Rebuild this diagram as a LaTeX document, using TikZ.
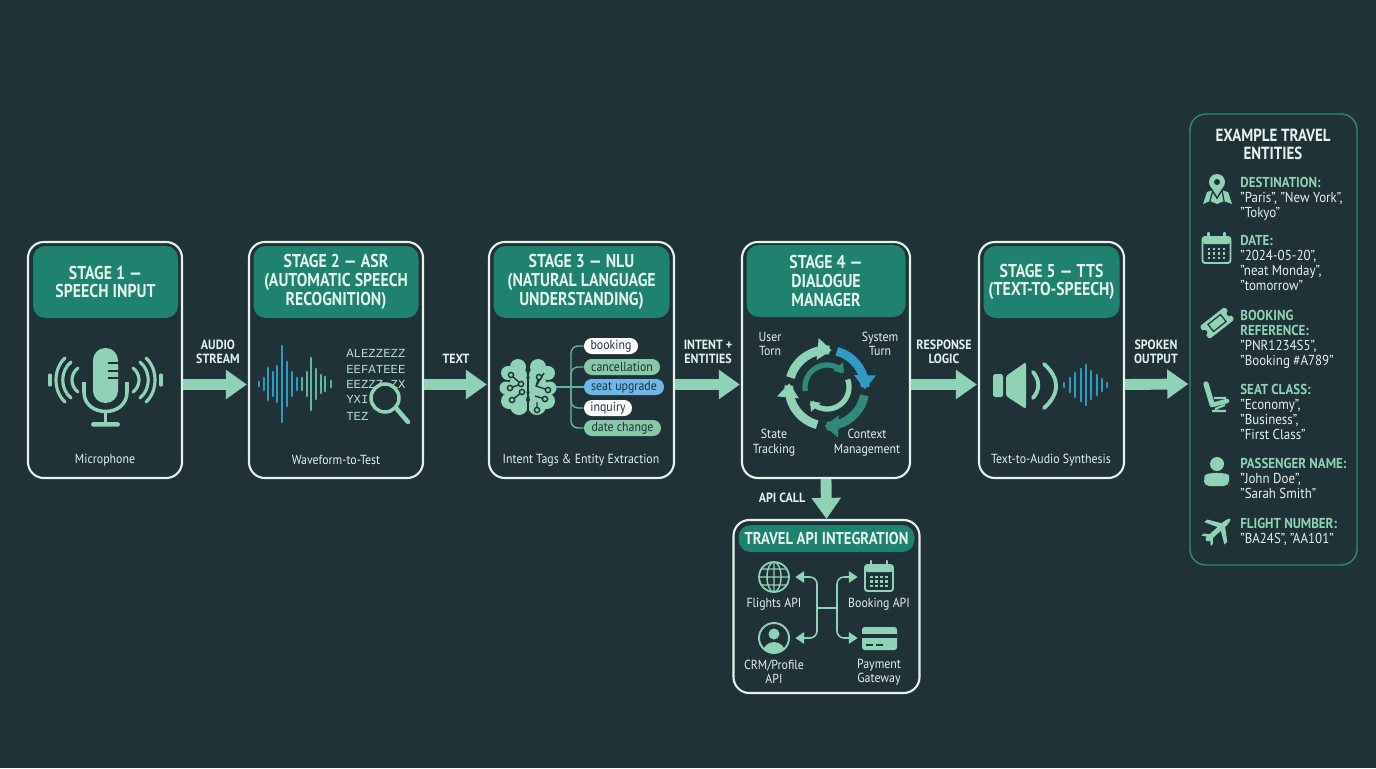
\documentclass[tikz,border=0pt]{standalone}
\usepackage{fontspec}
\setmainfont{PT Sans}[FakeStretch=0.9]
\newfontfamily\headfont{PT Sans}[FakeStretch=0.85]
\setmonofont{Liberation Mono}
\usetikzlibrary{arrows.meta,calc}
\definecolor{bgdark}{HTML}{1F3238}
\definecolor{headteal}{HTML}{1F8170}
\definecolor{mint}{HTML}{8FD3B6}
\definecolor{tagmint}{HTML}{86C9A8}
\definecolor{wavegreen}{HTML}{5FB89B}
\definecolor{waveblue}{HTML}{2E9BC6}
\definecolor{tagblue}{HTML}{6DB8E6}
\definecolor{paleline}{HTML}{E4F2EC}
\definecolor{paneledge}{HTML}{2E8B7A}
\newcommand{\px}{0.02cm}
\tikzset{
  stagebox/.style={draw=paleline, line width=1.2pt, rounded corners=9pt, minimum height=236*\px, inner sep=0pt},
  stagehead/.style={fill=headteal, rounded corners=7pt, minimum height=72*\px, inner sep=0pt, align=center, text=paleline,
    font=\headfont\bfseries\fontsize{10.6}{10.6}\selectfont},
  flowarrow/.style={draw=mint, line width=6.2pt, -{Triangle[width=16pt,length=12pt]}},
  flowlabel/.style={align=center, text=paleline, inner sep=0pt, font=\bfseries\fontsize{7.6}{8}\selectfont},
  bodytext/.style={align=center, text=paleline, inner sep=0pt},
  tagpill/.style={rounded corners=4.5pt, minimum height=16*\px, inner sep=0pt, text=bgdark},
  linkline/.style={draw=wavegreen, line width=0.8pt, rounded corners=4pt},
  apilink/.style={draw=mint, line width=0.9pt, rounded corners=4pt, -{Triangle[width=6.5pt,length=5pt]}},
  iconspot/.style={minimum width=42*\px, minimum height=30*\px, inner sep=0pt},
  entrytext/.style={anchor=north west, align=left, text=paleline, inner sep=0pt, font=\fontsize{8.2}{8.55}\selectfont},
  cyclearc/.style={line width=#1, -{Triangle[width=#1*2.4,length=#1*1.6]}},
  calendaricon/.pic={
    \draw[mint, line width=1.1pt, rounded corners=1.5pt] (-14,-12) rectangle (14,14);
    \fill[mint, rounded corners=1.5pt] (-14,-12) rectangle (14,-5);
    \draw[mint, line width=1.3pt, line cap=round] (-8,-16) -- (-8,-10) (8,-16) -- (8,-10);
    \foreach \dx in {-7.5,-2.5,2.5,7.5} \foreach \dy in {0,4.5,9} \fill[mint] (\dx-1.4,\dy-1.2) rectangle (\dx+1.4,\dy+1.2);
  }
}
\newcommand{\entryhead}[1]{{\bfseries\color{mint}#1}}

\begin{document}
\begin{tikzpicture}[x=0.02cm,y=-0.02cm,font=\fontsize{7.5}{8.2}\selectfont]
  \fill[bgdark] (0,0) rectangle (1376,768);
  \useasboundingbox (0,0) rectangle (1376,768);

  % Stage boxes and their title bars
  \node[stagebox, minimum width=154*\px] (stage1) at (105,360) {};
  \node[stagehead, minimum width=145*\px] (head1) at (105.5,282) {STAGE 1 —\\SPEECH INPUT};
  \node[stagebox, minimum width=174*\px] (stage2) at (336,360) {};
  \node[stagehead, minimum width=165*\px] (head2) at (336,282) {STAGE 2 — ASR\\(AUTOMATIC SPEECH\\RECOGNITION)};
  \node[stagebox, minimum width=185*\px] (stage3) at (581.5,360) {};
  \node[stagehead, minimum width=176*\px] (head3) at (581.5,282) {STAGE 3 — NLU\\(NATURAL LANGUAGE\\UNDERSTANDING)};
  \node[stagebox, minimum width=168*\px] (stage4) at (826,360) {};
  \node[stagehead, minimum width=159*\px] (head4) at (826,281) {STAGE 4 —\\DIALOGUE\\MANAGER};
  \node[stagebox, minimum width=145*\px] (stage5) at (1051.5,360) {};
  \node[stagehead, minimum width=136*\px] (head5) at (1051.5,282) {STAGE 5 — TTS\\(TEXT-TO-SPEECH)};

  % Captions
  \node[bodytext] (cap1) at (105,460) {Microphone};
  \node[bodytext] (cap2) at (336,460) {Waveform-to-Test};
  \node[bodytext] (cap3) at (581,460) {Intent Tags \& Entity Extraction};
  \node[bodytext] (cap5) at (1051,460) {Text-to-Audio Synthesis};

  % API panel and side panel
  \node[stagebox, minimum width=186*\px, minimum height=173*\px] (apipanel) at (826.5,606.5) {};
  \node[stagehead, minimum width=176*\px, minimum height=27*\px, font=\headfont\bfseries\fontsize{9.8}{10}\selectfont] (apihead) at (826.5,538.5) {TRAVEL API INTEGRATION};
  \node[draw=paneledge, line width=0.8pt, rounded corners=9pt, minimum width=167*\px, minimum height=451*\px, inner sep=0pt] (entitypanel) at (1273.5,339.5) {};

  % Flow arrows
  \draw[flowarrow] ($(stage1.east)+(0,24.5)$) -- ($(stage2.west)+(-1,24.5)$);
  \draw[flowarrow] ($(stage2.east)+(0,24.5)$) -- ($(stage3.west)+(-1,24.5)$);
  \draw[flowarrow] ($(stage3.east)+(0,24.5)$) -- ($(stage4.west)+(-1,24.5)$);
  \draw[flowarrow] ($(stage4.east)+(0,24.5)$) -- ($(stage5.west)+(-1,24.5)$);
  \draw[flowarrow] ($(stage5.east)+(0,24.5)$) -- ($(entitypanel.west)+(-1,44.5)$);
  \draw[flowarrow] (stage4.south) -- (apipanel.north);

  \node[flowlabel] (lab1) at (218,352) {AUDIO\\STREAM};
  \node[flowlabel] (lab2) at (456,359) {TEXT};
  \node[flowlabel] (lab3) at (708,352) {INTENT +\\ENTITIES};
  \node[flowlabel] (lab4) at (944,352) {RESPONSE\\LOGIC};
  \node[flowlabel] (lab5) at (1156,352) {SPOKEN\\OUTPUT};
  \node[flowlabel] (lab6) at (782,498) {API CALL};

  % Microphone
  \fill[mint, rounded corners=7pt] (93,348) rectangle (118,403);
  \draw[bgdark, line width=1.2pt] (108,363) -- (118,363) (108,371) -- (118,371) (108,378) -- (118,378);
  \draw[mint, line width=2pt] (84,382) -- (84,392) .. controls (84,418) and (127,418) .. (127,392) -- (127,382);
  \draw[mint, line width=2pt] (105.5,412) -- (105.5,424);
  \fill[mint, rounded corners=1pt] (91,422) rectangle (120,426.5);
  \foreach \xa/\xb/\hh in {133/141/12,140/151/18,146/158/22} {
    \draw[mint, line width=1.8pt, line cap=round] (\xa,380-\hh) .. controls (\xb,380-\hh/2) and (\xb,380+\hh/2) .. (\xa,380+\hh);
    \draw[mint, line width=1.8pt, line cap=round] (211-\xa,380-\hh) .. controls (211-\xb,380-\hh/2) and (211-\xb,380+\hh/2) .. (211-\xa,380+\hh);
  }
  \draw[mint, line width=1.8pt, line cap=round] (161,375) -- (161,385) (50,375) -- (50,385);

  % Waveform and scanned text
  \foreach \bx/\hh in {259/2,264/6,268/16,273/12,277/18,282/38,287/22,292/12,297/6} \draw[waveblue, line width=1.6pt, line cap=round] (\bx,384-\hh) -- (\bx,384+\hh);
  \foreach \bx/\hh in {302/6,307/12,311/26,316/15,321/9,325/7,331/3} \draw[wavegreen, line width=1.6pt, line cap=round] (\bx,384-\hh) -- (\bx,384+\hh);
  \node[bodytext, anchor=west, text=mint!70!white, font=\ttfamily\fontsize{7}{8}\selectfont] (scan1) at (346,353) {ALEZZEZZ};
  \node[bodytext, anchor=west, text=mint!70!white, font=\ttfamily\fontsize{7}{8}\selectfont] (scan2) at (346,369) {EEFATEEE};
  \node[bodytext, anchor=west, text=mint!70!white, font=\ttfamily\fontsize{7}{8}\selectfont] (scan3) at (346,384) {EEZZZ ZX};
  \node[bodytext, anchor=west, text=mint!70!white, font=\ttfamily\fontsize{7}{8}\selectfont] (scan4) at (346,399) {YXI};
  \node[bodytext, anchor=west, text=mint!70!white, font=\ttfamily\fontsize{7}{8}\selectfont] (scan5) at (346,416) {TEZ};
  \draw[mint, line width=2pt, fill=bgdark] (385,398) circle [radius=14];
  \draw[mint, line width=2.6pt, line cap=round] (396,408) -- (408,422);

  % Brain
  \node[minimum width=56*\px, minimum height=56*\px, inner sep=0pt] (brain) at (528,387) {};
  \foreach \bx/\by/\rr in {518/367/8,508/373/7,506/388/6.5,509/401/8,519/406/9,519/385/10,517/395/10,520/375/7} {
    \fill[mint] (\bx,\by) circle [radius=\rr];
    \fill[mint] (1056-\bx,\by) circle [radius=\rr];
  }
  \draw[bgdark, line width=1pt] (528,357) -- (528,417);
  \draw[bgdark, line width=0.8pt] (511,375) -- (521,384) -- (510,388) (512,400) -- (522,392) (539,377) -- (536,386) -- (548,390) (544,373) -- (536,386) (535,396) -- (545,399) (537,402) -- (537,410);
  \foreach \bx/\by in {511/375,521/384,510/388,512/400,522/392,539/377,548/390,545/399,537/410} \draw[bgdark, line width=0.8pt, fill=mint] (\bx,\by) circle [radius=2.6];

  % Intent tags
  \node[tagpill, fill=white, minimum width=54*\px] (tagbook) at (611,346) {booking};
  \node[tagpill, fill=tagmint, minimum width=76*\px] (tagcancel) at (622,367) {cancellation};
  \node[tagpill, fill=tagblue, minimum width=80*\px] (tagseat) at (624,387) {seat upgrade};
  \node[tagpill, fill=white, minimum width=48*\px] (taginq) at (608,408) {inquiry};
  \node[tagpill, fill=tagmint, minimum width=77*\px] (tagdate) at (622.5,428) {date change};
  \coordinate (trunk) at (571,387);
  \draw[linkline] (brain.east) -- (tagseat.west);
  \foreach \tg in {tagbook,tagcancel,taginq,tagdate} \draw[linkline] (trunk) |- (\tg.west);

  % Dialogue cycle
  \draw[cyclearc=5pt, mint] plot[domain=196:277,samples=24] ({827+38*cos(\x)},{388+38*sin(\x)});
  \draw[cyclearc=5pt, waveblue] plot[domain=285:362,samples=24] ({827+38*cos(\x)},{388+38*sin(\x)});
  \draw[cyclearc=5pt, paneledge] plot[domain=11:94,samples=24] ({827+38*cos(\x)},{388+38*sin(\x)});
  \draw[cyclearc=5pt, mint] plot[domain=105:187,samples=24] ({827+38*cos(\x)},{388+38*sin(\x)});
  \draw[cyclearc=3pt, paneledge] plot[domain=170:320,samples=30] ({827+22*cos(\x)},{387+22*sin(\x)});
  \draw[cyclearc=3pt, mint] plot[domain=340:500,samples=30] ({827+22*cos(\x)},{387+22*sin(\x)});
  \node[bodytext] (turnuser) at (770,344) {User\\Torn};
  \node[bodytext] (turnsys) at (880,344) {System\\Turn};
  \node[bodytext] (tracking) at (774,442.5) {State\\Tracking};
  \node[bodytext] (context) at (867,442.5) {Context\\Management};

  % Speaker
  \fill[mint, rounded corners=1pt] (993,374) rectangle (1003,397);
  \fill[mint, rounded corners=1pt] (1006,376) -- (1026,362) -- (1026,409) -- (1006,396) -- cycle;
  \draw[mint, line width=2.2pt, line cap=round] (1033,372) .. controls (1040,380) and (1040,390) .. (1033,398);
  \draw[mint, line width=2.2pt, line cap=round] (1044,364) .. controls (1060,378) and (1060,394) .. (1044,408);
  \foreach \bx/\hh in {1064/2,1070/7,1075/12,1081/16,1086/20,1091/14,1097/10,1102/6,1107/2} \draw[waveblue, line width=1.6pt, line cap=round] (\bx,385-\hh) -- (\bx,385+\hh);

  % API icons
  \node[iconspot] (flights) at (774,577) {};
  \draw[mint, line width=1pt] (774,577) circle [radius=15];
  \draw[mint, line width=0.8pt] (774,577) ellipse [x radius=7, y radius=15] (774,562) -- (774,592) (759,577) -- (789,577) (761,569) -- (787,569) (761,585) -- (787,585);
  \node[iconspot, minimum width=42*\px] (booking) at (879,577) {};
  \pic at (879,577) {calendaricon};
  \node[iconspot] (crm) at (774,638) {};
  \draw[mint, line width=1.1pt] (774,638) circle [radius=15];
  \fill[mint] (774,634) circle [radius=5.5];
  \begin{scope}
    \clip (774,638) circle [radius=15];
    \fill[mint] (774,655) ellipse [x radius=12, y radius=13];
  \end{scope}
  \node[iconspot] (payment) at (879,638) {};
  \fill[mint, rounded corners=1.5pt] (862,627) rectangle (897,650);
  \fill[bgdark] (862,634) rectangle (897,638);
  \draw[bgdark, line width=0.9pt] (866,645) -- (873,645) (876,645) -- (883,645);
  \node[bodytext] (flightslab) at (774,604) {Flights API};
  \node[bodytext] (bookinglab) at (879,604) {Booking API};
  \node[bodytext] (crmlab) at (774,672) {CRM/Profile\\API};
  \node[bodytext] (paylab) at (879,672) {Payment\\Gateway};
  \coordinate (hubleft) at (817,608);
  \coordinate (hubright) at (837,608);
  \draw[draw=mint, line width=0.9pt] (hubleft) -- (hubright);
  \draw[apilink] (hubleft) |- (flights.east);
  \draw[apilink] (hubleft) |- (crm.east);
  \draw[apilink] (hubright) |- (booking.west);
  \draw[apilink] (hubright) |- (payment.west);

  % Entity list
  \node[bodytext, font=\headfont\bfseries\fontsize{10}{10}\selectfont] (entitytitle) at (1273,144.5) {EXAMPLE TRAVEL\\ENTITIES};
  \node[entrytext] (entdest) at (1240,176.5) {\entryhead{DESTINATION:}\\"Paris", "New York",\\"Tokyo"};
  \node[entrytext] (entdate) at (1240,234.5) {\entryhead{DATE:}\\"2024-05-20",\\"neat Monday",\\"tomorrow"};
  \node[entrytext] (entref) at (1240,309.5) {\entryhead{BOOKING}\\\entryhead{REFERENCE:}\\"PNR1234S5",\\"Booking \#A789"};
  \node[entrytext] (entseat) at (1240,383.5) {\entryhead{SEAT CLASS:}\\"Economy",\\"Business",\\"First Class"};
  \node[entrytext] (entname) at (1240,457.5) {\entryhead{PASSENGER NAME:}\\"John Doe",\\"Sarah Smith"};
  \node[entrytext] (entflight) at (1240,517.5) {\entryhead{FLIGHT NUMBER:}\\"BA24S", "AA101"};

  % Entity icons
  \fill[mint] (1203,204) -- (1207,192) -- (1213,190) -- (1217,198) -- (1222,190) -- (1228,192) -- (1232,204) -- (1224,201) -- (1217,204) -- (1210,201) -- cycle;
  \draw[bgdark, line width=0.7pt] (1213,190) -- (1210,201) (1222,190) -- (1224,201);
  \draw[bgdark, line width=0.8pt, fill=mint] (1217,198) -- (1210,187) -- (1224,187) -- cycle;
  \fill[mint] (1217,182) circle [radius=8];
  \fill[bgdark] (1217,182) circle [radius=3];
  \pic at (1216.5,249) {calendaricon};
  \begin{scope}[shift={(1217,323)}, rotate=38]
    \fill[mint, rounded corners=1pt] (-16,-8) rectangle (16,8);
    \fill[bgdark] (-16,0) circle [radius=3] (16,0) circle [radius=3];
    \draw[bgdark, line width=0.7pt] (-8,-4.5) rectangle (8,4.5);
  \end{scope}
  \draw[mint, line width=3pt, line cap=round] (1206,384) -- (1212,404);
  \draw[mint, line width=2.6pt, line cap=round] (1212,405) -- (1227,401);
  \draw[mint, line width=1.2pt] (1214,398) -- (1226,398) (1215,409) -- (1225,405) (1212,411) -- (1226,411);
  \fill[mint] (1217,464) circle [radius=7];
  \fill[mint, rounded corners=3pt] (1204,486) -- (1204,481) .. controls (1205,472) and (1229,472) .. (1229,481) -- (1229,486) -- cycle;
  \begin{scope}[shift={(1218,530)}, rotate=42]
    \fill[mint, rounded corners=1.5pt] (-16,-2.5) -- (12,-2.5) -- (18,0) -- (12,2.5) -- (-16,2.5) -- cycle;
    \fill[mint] (3,0) -- (-5,-15) -- (-1,-15) -- (9,0) -- (-1,15) -- (-5,15) -- cycle;
    \fill[mint] (-11,0) -- (-16,-7) -- (-13,-7) -- (-7,0) -- (-13,7) -- (-16,7) -- cycle;
  \end{scope}
\end{tikzpicture}
\end{document}
